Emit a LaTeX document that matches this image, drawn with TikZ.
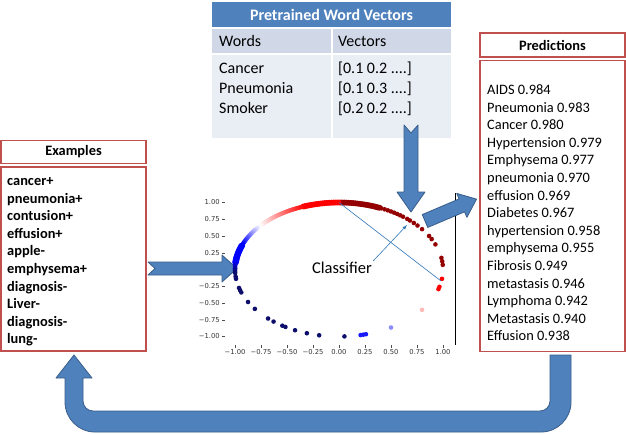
\documentclass[tikz,border=0pt]{standalone}
\usepackage{fontspec}
\setmainfont{Carlito}
\newfontfamily\axisfont{DejaVu Sans}
\usepackage{tikz}
\usetikzlibrary{positioning}

\definecolor{boxred}{HTML}{C0504D}
\definecolor{arrowblue}{HTML}{4F81BD}
\definecolor{arrowedge}{HTML}{385D8A}
\definecolor{rowblue}{HTML}{D0D8E8}
\definecolor{bodyblue}{HTML}{E9EDF4}
\definecolor{clfblue}{HTML}{2E75B6}
\definecolor{dotdred}{rgb}{0.58,0,0}
\definecolor{dotnavy}{rgb}{0.05,0.05,0.42}
\definecolor{dotlblue}{rgb}{0.55,0.55,1}
\definecolor{dotpink}{rgb}{1,0.72,0.72}

\begin{document}
\begin{tikzpicture}
    [
    x=1pt, y=-1pt,
    redbox/.style={draw=boxred, line width=1.5pt, inner sep=0pt, minimum width=145},
    boxtitle/.style={font=\bfseries\fontsize{14.4}{17.6}\selectfont},
    listtext/.style={inner sep=0pt, anchor=base west, font=\fontsize{14.4}{17.6}\selectfont},
    tabletext/.style={inner sep=0pt, anchor=base west, font=\fontsize{16}{20}\selectfont},
    cell/.style={inner sep=0pt, minimum height=#1},
    blockarrow/.style={fill=arrowblue, draw=arrowedge, line width=0.8pt, line join=round},
    ticklabel/.style={inner sep=0pt, font=\axisfont\fontsize{6.8}{8}\selectfont, text=black!80},
    ]
    \useasboundingbox (0,0) rectangle (626,434);

    % word vector table
    \node (wvhead) at (331.5,14.5) [cell=25, minimum width=239, fill=arrowblue,
      text=white, font=\bfseries\fontsize{16}{20}\selectfont] {Pretrained Word Vectors};
    \node (colw) at (271.5,41) [cell=24, minimum width=119, fill=rowblue] {};
    \node (colv) at (392,41) [cell=24, minimum width=118, fill=rowblue] {};
    \node (bodyw) at (271.5,96.5) [cell=83, minimum width=119, fill=bodyblue] {};
    \node (bodyv) at (392,96.5) [cell=83, minimum width=118, fill=bodyblue] {};
    \node (hwords) at (219,46) [tabletext] {Words};
    \node (hvectors) at (338,46) [tabletext] {Vectors};
    \node (w1) at (219,73) [tabletext] {Cancer};
    \node (w2) at (219,93) [tabletext] {Pneumonia};
    \node (w3) at (219,113) [tabletext] {Smoker};
    \node (v1) at (338,73) [tabletext] {[0.1 0.2 ....]};
    \node (v2) at (338,93) [tabletext] {[0.1 0.3 ....]};
    \node (v3) at (338,113) [tabletext] {[0.2 0.2 ....]};

    % examples
    \node (exhead) at (73.5,152) [redbox, minimum height=23, boxtitle] {Examples};
    \node (exbody) [redbox, minimum height=184, below=2pt of exhead] {};
    \foreach \w [count=\i] in {cancer+, pneumonia+, contusion+, effusion+, apple-,
      emphysema+, diagnosis-, Liver-, diagnosis-, lung-}
      \node (ex\i) at (7,{185.4+17.6*(\i-1)}) [listtext, font=\bfseries\fontsize{14.4}{17.6}\selectfont] {\w};

    % predictions
    \node (predhead) at (552.5,45) [redbox, minimum height=24, boxtitle] {Predictions};
    \node (predbody) [redbox, minimum height=291, below=2pt of predhead] {};
    \foreach \w [count=\i] in {AIDS 0.984, Pneumonia 0.983, Cancer 0.980, Hypertension 0.979,
      Emphysema 0.977, pneumonia 0.970, effusion 0.969, Diabetes 0.967, hypertension 0.958,
      emphysema 0.955, Fibrosis 0.949, metastasis 0.946, Lymphoma 0.942, Metastasis 0.940,
      Effusion 0.938}
      \node (pred\i) at (487,{94.5+17.6*(\i-1)}) [listtext] {\w};

    % plot axes
    \foreach \v/\t [count=\i] in {1/1.00, 0.75/0.75, 0.5/0.50, 0.25/0.25,
      -0.25/−0.25, -0.5/−0.50, -0.75/−0.75, -1/−1.00}
    {
      \node (ylab\i) at (220,{269.5-67*\v}) [ticklabel, anchor=east] {\t};
      \draw [black!70, line width=0.4pt] (222,{269.5-67*\v}) -- (225,{269.5-67*\v});
    }
    \foreach \v/\t [count=\i] in {-1/−1.00, -0.75/−0.75, -0.5/−0.50, -0.25/−0.25,
      0/0.00, 0.25/0.25, 0.5/0.50, 0.75/0.75, 1/1.00}
    {
      \node (xlab\i) at ({339+104*\v},352.5) [ticklabel] {\t};
      \draw [black!70, line width=0.4pt] ({339+104*\v},345) -- ({339+104*\v},347.5);
    }
    \draw [line width=0.6pt] (455,193) -- (455,345);

    % arrow into the plot
    \coordinate (intail) at (148,268.5);
    \begin{scope}[shift={(intail)}]
      \filldraw [blockarrow] (0,-6.5) -- (74,-6.5) -- (74,-13.5) -- (89,0) -- (74,13.5)
        -- (74,6.5) -- (0,6.5) -- (7,0) -- cycle;
    \end{scope}

    % points
    \foreach \a in {67,68,...,89}
      \foreach \r in {0.99,1.01}
        \fill [dotdred] ({339+104*\r*cos(\a)},{269.5-67*\r*sin(\a)}) circle (2.3);
    \foreach \a in {4,7,10,22,27,30,37,41,44,47,49,52,54,56,58,60,62,64,66}
      \fill [dotdred] ({339+104*cos(\a)},{269.5-67*sin(\a)}) circle (2.3);
    \foreach \a in {90,91,...,110}
      \foreach \r in {0.99,1.01}
        \fill [red] ({339+104*\r*cos(\a)},{269.5-67*\r*sin(\a)}) circle (2.3);
    \foreach \a [evaluate=\a as \p using {int(100-(\a-110)*100/30)}] in {111,112,...,140}
      \fill [red!\p!white] ({339+104*cos(\a)},{269.5-67*sin(\a)}) circle (2.3);
    \foreach \a [evaluate=\a as \p using {int((\a-140)*100/18)}] in {141,142,...,158}
      \fill [blue!\p!white] ({339+104*cos(\a)},{269.5-67*sin(\a)}) circle (2.3);
    \foreach \a in {159,160,...,174}
      \foreach \r in {0.99,1.01}
        \fill [blue] ({339+104*\r*cos(\a)},{269.5-67*\r*sin(\a)}) circle (2.3);
    \foreach \a [evaluate=\a as \p using {int((\a-174)*100/9)}] in {175,176,...,183}
      \fill [dotnavy!\p!blue] ({339+104*cos(\a)},{269.5-67*sin(\a)}) circle (2.3);
    \foreach \a in {186,188,196,198,200,209,216,227,231,237,239,245,252,259,273}
      \fill [dotnavy] ({339+104*cos(\a)},{269.5-67*sin(\a)}) circle (2.3);
    \foreach \a in {282,283.5,285}
      \fill [blue!90!white] ({339+104*cos(\a)},{269.5-67*sin(\a)}) circle (2.3);
    \fill [dotlblue] ({339+104*cos(300)},{269.5-67*sin(300)}) circle (2.3);
    \fill [dotpink] ({339+104*cos(323)},{269.5-67*sin(323)}) circle (2.3);
    \foreach \a in {343,345,352}
      \fill [red] ({339+104*cos(\a)},{269.5-67*sin(\a)}) circle (2.3);

    % classifier
    \coordinate (hyptop) at (339,202.5);
    \coordinate (hypbot) at (441,281);
    \draw [clfblue, line width=0.6pt] (hyptop) -- (hypbot);
    \node (clf) at (342,268) [inner sep=1pt, font=\fontsize{16.5}{18}\selectfont] {Classifier};
    \coordinate (clfend) at (407,225);
    \draw [clfblue, line width=0.6pt, -latex] (clf.north east) -- (clfend);

    % vectors down into the plot
    \coordinate (dntail) at (411,125);
    \begin{scope}[shift={(dntail)}, rotate=-90]
      \filldraw [blockarrow] (0,-7) -- (67,-7) -- (67,-14) -- (87,0) -- (67,14)
        -- (67,7) -- (0,7) -- (8,0) -- cycle;
    \end{scope}

    % plot to predictions
    \coordinate (outtail) at (425,221);
    \begin{scope}[shift={(outtail)}, rotate=23]
      \filldraw [blockarrow] (0,-7) -- (40,-7) -- (40,-13) -- (56,0) -- (40,13)
        -- (40,7) -- (0,7) -- cycle;
    \end{scope}

    % back to examples
    \filldraw [blockarrow] (550,355) -- (571,355) -- (571,402)
      arc [start angle=0, end angle=90, radius=30] -- (95,432)
      arc [start angle=90, end angle=180, radius=30] -- (65,378) -- (56,378)
      -- (74,355) -- (92,378) -- (83,378) -- (83,401)
      arc [start angle=180, end angle=90, radius=10] -- (540,411)
      arc [start angle=90, end angle=0, radius=10] -- cycle;
  \end{tikzpicture}
\end{document}
